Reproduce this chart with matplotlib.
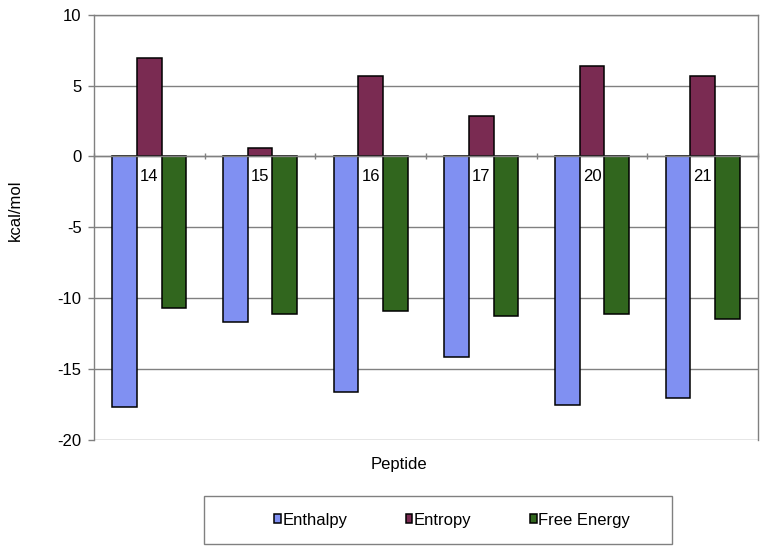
import matplotlib
matplotlib.use("Agg")
import matplotlib.pyplot as plt
import numpy as np
from matplotlib.patches import Rectangle

plt.rcParams['font.family'] = ['Liberation Sans', 'DejaVu Sans']

peptides = ["14", "15", "16", "17", "20", "21"]
enthalpy = [-17.64, -11.69, -16.59, -14.12, -17.53, -17.06]
entropy = [6.95, 0.60, 5.68, 2.88, 6.40, 5.68]
free_energy = [-10.71, -11.11, -10.90, -11.23, -11.11, -11.44]
series_names = ["Enthalpy", "Entropy", "Free Energy"]
colors = ["#8090F2", "#7A2B52", "#31661E"]
yticks = [10, 5, 0, -5, -10, -15, -20]

FS = 12

fig = plt.figure(figsize=(7.68, 5.54), dpi=100)
ax = fig.add_axes([94/768, 1-440/554, (758-94)/768, (440-14.7)/554])

x = np.arange(len(peptides))
w = 0.222
for i, (vals, name, c) in enumerate(zip([enthalpy, entropy, free_energy], series_names, colors)):
    ax.bar(x + (i-1)*w, vals, width=w, color=c, edgecolor="black", linewidth=1.1,
           label=name, zorder=3)

ax.set_xlim(-0.5, len(peptides)-0.5)
ax.set_ylim(-20, 10)
ax.set_yticks(yticks)
ax.set_yticklabels([str(t) for t in yticks], fontsize=FS)
ax.yaxis.grid(True, color="#808080", linewidth=1.0, zorder=0)
ax.tick_params(axis='y', length=4, direction='out', color="#808080", width=1, pad=5)

# x axis at zero
ax.spines['bottom'].set_position(('data', 0))
ax.spines['bottom'].set_color("#808080")
ax.spines['bottom'].set_linewidth(1.0)
ax.spines['bottom'].set_zorder(4)
ax.set_xticks(np.arange(-0.5, len(peptides), 1.0))
ax.set_xticklabels([])
ax.tick_params(axis='x', which='major', length=4, direction='inout', color="#808080", width=1)
ax.set_xticks(x, minor=True)
ax.set_xticklabels(peptides, minor=True, fontsize=FS)
ax.tick_params(axis='x', which='minor', length=0, pad=9)
for lab in ax.get_xticklabels(minor=True):
    lab.set_zorder(5)

for s in ['left', 'right', 'top']:
    ax.spines[s].set_color("#808080")
    ax.spines[s].set_linewidth(1.0)

fig.text(399/768, 1-465/554, "Peptide", ha='center', va='center', fontsize=FS)
fig.text(15/768, 1-210/554, "kcal/mol", ha='center', va='center', rotation=90, fontsize=FS)

# legend box
fig.patches.append(Rectangle((204/768, 1-544/554), (672-204)/768, (544-496)/554,
                             transform=fig.transFigure, fill=False, edgecolor="#808080",
                             linewidth=1.0))
handles, labels = ax.get_legend_handles_labels()
leg = fig.legend(handles, labels, loc='center', bbox_to_anchor=(452/768, 1-520/554),
                 ncol=3, frameon=False, fontsize=FS, handlelength=0.4, handleheight=0.4,
                 handletextpad=0.1, columnspacing=3.5)

fig.savefig("out.png", dpi=100)
